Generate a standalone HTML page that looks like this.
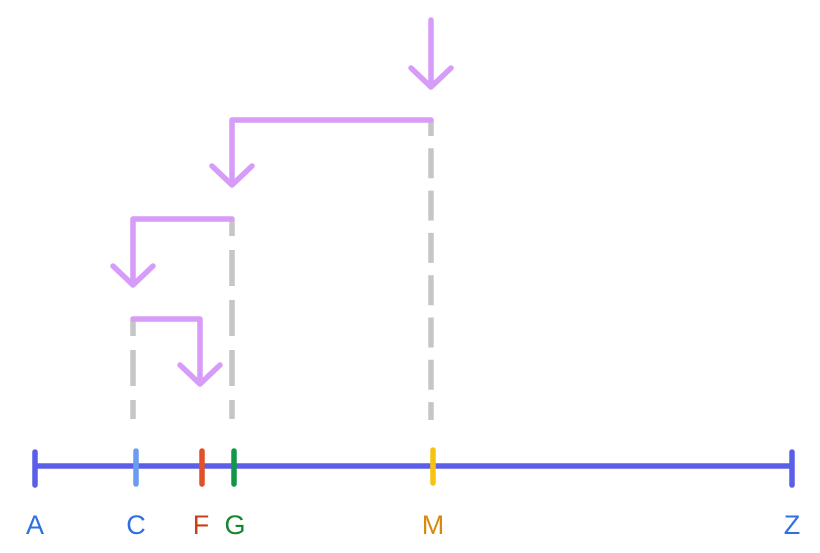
<!DOCTYPE html>
<html><head><style>body{margin:0;background:#fff}svg{display:block}</style></head><body>
<svg width="820" height="553" viewBox="0 0 820 553" xmlns="http://www.w3.org/2000/svg">
<g stroke="#c6c6c6" stroke-width="5.5" fill="none">
<line x1="133" y1="320" x2="133" y2="419" stroke-dasharray="36 14" stroke-dashoffset="20"/>
<line x1="232" y1="220" x2="232" y2="419" stroke-dasharray="36 14" stroke-dashoffset="20"/>
<line x1="431" y1="120" x2="431" y2="420" stroke-dasharray="30 12.3" stroke-dashoffset="14"/>
</g>
<g stroke="#d79cf8" stroke-width="5.5" stroke-linecap="round" stroke-linejoin="round" fill="none">
<path d="M431 20V87M411 68L431 87L451 68"/>
<path d="M431 120H232V185M212 166L232 185L252 166"/>
<path d="M232 219H133V285M113 266L133 285L153 266"/>
<path d="M133 319H200V384M180 365L200 384L220 365"/>
</g>
<line x1="35" y1="466" x2="792" y2="466" stroke="#5b5fe8" stroke-width="5.5"/>
<g stroke-width="5.5" stroke-linecap="round">
<line x1="35" y1="452" x2="35" y2="485" stroke="#5b5fe8"/>
<line x1="792" y1="452" x2="792" y2="485" stroke="#5b5fe8"/>
<line x1="136" y1="451" x2="136" y2="484" stroke="#6a9cf0"/>
<line x1="202" y1="451" x2="202" y2="484" stroke="#e2502a"/>
<line x1="234" y1="451" x2="234" y2="484" stroke="#13964a"/>
<line x1="433" y1="450" x2="433" y2="483" stroke="#f7c313"/>
</g>
<g font-family="Liberation Sans, sans-serif" font-size="27" text-anchor="middle">
<text x="35" y="534" fill="#2f6fe0">A</text>
<text x="136" y="534" fill="#2f6fe0">C</text>
<text x="201" y="534" fill="#c8401a">F</text>
<text x="235" y="534" fill="#13862f">G</text>
<text x="433" y="534" fill="#d88a0e">M</text>
<text x="792" y="534" fill="#2f6fe0">Z</text>
</g>
</svg>
</body></html>
